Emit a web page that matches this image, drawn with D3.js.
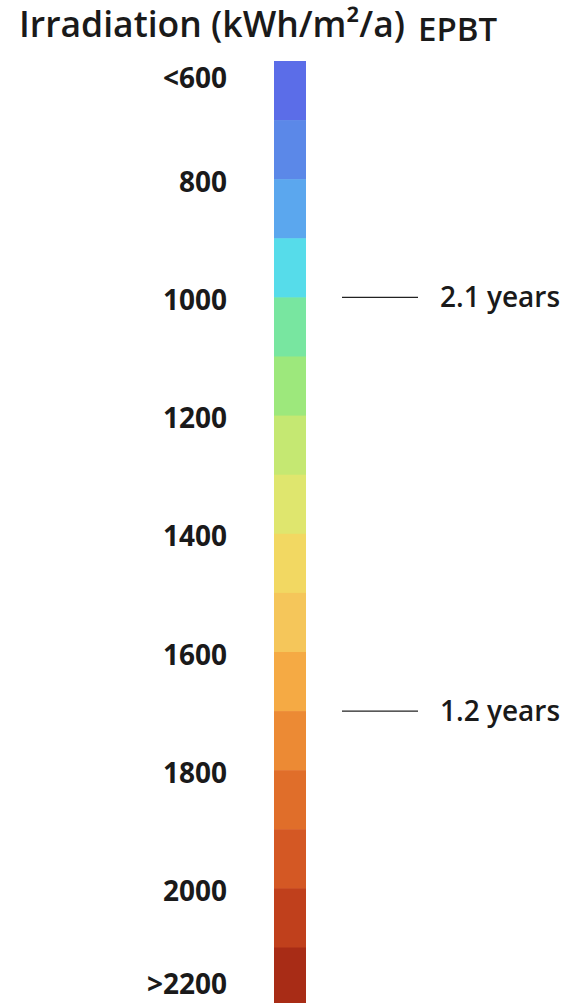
<!DOCTYPE html>
<html>
<head>
<meta charset="utf-8">
<script src="https://cdn.jsdelivr.net/npm/d3@7"></script>
<style>
  html, body { margin: 0; padding: 0; background: #fff; }
  svg text { font-family: "Open Sans", "Noto Sans", sans-serif; fill: #1a1a1a; }
</style>
</head>
<body>
<svg id="chart" width="576" height="1003"></svg>
<script>
// Irradiation classes (lower bound of each 100 kWh/m²/a bin) and their colours
const binStarts = [600, 700, 800, 900, 1000, 1100, 1200, 1300, 1400, 1500, 1600, 1700, 1800, 1900, 2000, 2100];
const binColors = ["#5b6de8", "#5b88e8", "#5ba7ee", "#56dcea", "#78e6a0", "#9de87c", "#c5e872", "#dfe66e",
                   "#f2d862", "#f5c65a", "#f5aa44", "#ec8a34", "#e06e2a", "#d45824", "#c0401c", "#a82c16"];
const binWidth = 100;

// Scale labels
const tickValues = [600, 800, 1000, 1200, 1400, 1600, 1800, 2000, 2200];
const tickLabels = ["<600", "800", "1000", "1200", "1400", "1600", "1800", "2000", ">2200"];

// Energy payback time markers
const epbtValues = [1000, 1700];
const epbtLabels = ["2.1 years", "1.2 years"];

const titleLeft = "Irradiation (kWh/m²/a)";
const titleRight = "EPBT";

const svg = d3.select("#chart");

const y = d3.scaleLinear()
  .domain([600, 2200])
  .range([61, 61 + 16 * 59.1]);

const barX = 274, barW = 32;

// Colour bar
svg.append("g")
  .selectAll("rect")
  .data(binStarts)
  .join("rect")
  .attr("x", barX)
  .attr("y", d => y(d))
  .attr("width", barW)
  .attr("height", d => y(d + binWidth) - y(d) + 0.5)
  .attr("fill", (d, i) => binColors[i]);

// Headers
svg.append("text")
  .attr("x", 19).attr("y", 37)
  .attr("font-size", 35.5).attr("font-weight", 600)
  .text(titleLeft);
svg.append("text")
  .attr("x", 418).attr("y", 41)
  .attr("font-size", 33).attr("font-weight", 600)
  .text(titleRight);

// Scale labels, open-ended classes kept inside the bar's extent
const [yTop, yBot] = y.range();
svg.append("g")
  .selectAll("text")
  .data(tickValues)
  .join("text")
  .attr("x", 227)
  .attr("y", d => Math.min(Math.max(y(d), yTop + 14), yBot - 25))
  .attr("dy", "0.45em")
  .attr("text-anchor", "end")
  .attr("font-size", 28).attr("font-weight", 700)
  .text((d, i) => tickLabels[i]);

// EPBT markers
const marks = svg.append("g")
  .selectAll("g")
  .data(epbtValues)
  .join("g")
  .attr("transform", d => `translate(0,${y(d)})`);
marks.append("line")
  .attr("x1", 342).attr("x2", 418)
  .attr("stroke", "#222").attr("stroke-width", 1.4);
marks.append("text")
  .attr("x", 440)
  .attr("dy", "0.35em")
  .attr("font-size", 28).attr("font-weight", 600)
  .text((d, i) => epbtLabels[i]);
</script>
</body>
</html>
